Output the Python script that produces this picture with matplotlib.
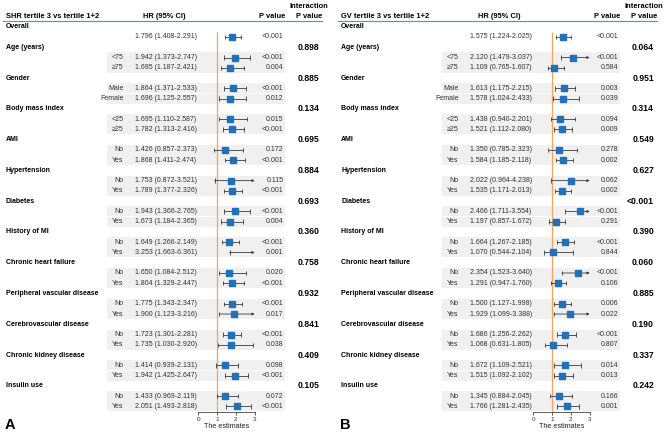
"""
Forest plots of hazard ratios for SHR and GV tertile 3 vs tertile 1+2 by subgroup.
"""

import matplotlib
matplotlib.use("Agg")
import matplotlib.pyplot as plt
from matplotlib.patches import Rectangle

plt.rcParams["font.family"] = ["Liberation Sans", "DejaVu Sans"]

# ---- data -----------------------------------------------------------------
groups = [
    "Age (years)", "Gender", "Body mass index", "AMI", "Hypertension",
    "Diabetes", "History of MI", "Chronic heart failure",
    "Peripheral vascular disease", "Cerebrovascular disease",
    "Chronic kidney disease", "Insulin use",
]
levels = [
    ["<75", "≥75"], ["Male", "Female"], ["<25", "≥25"], ["No", "Yes"],
    ["No", "Yes"], ["No", "Yes"], ["No", "Yes"], ["No", "Yes"],
    ["No", "Yes"], ["No", "Yes"], ["No", "Yes"], ["No", "Yes"],
]

# first entry = overall, then two levels per group in order
shr_hr = [1.796, 1.942, 1.695, 1.864, 1.696, 1.695, 1.782, 1.426, 1.868,
          1.753, 1.789, 1.943, 1.673, 1.649, 3.253, 1.650, 1.804, 1.775,
          1.900, 1.723, 1.735, 1.414, 1.942, 1.433, 2.051]
shr_lo = [1.408, 1.373, 1.187, 1.371, 1.125, 1.110, 1.313, 0.857, 1.411,
          0.872, 1.377, 1.366, 1.184, 1.266, 1.663, 1.084, 1.329, 1.343,
          1.123, 1.301, 1.030, 0.939, 1.425, 0.969, 1.493]
shr_hi = [2.291, 2.747, 2.421, 2.533, 2.557, 2.587, 2.416, 2.373, 2.474,
          3.521, 2.326, 2.765, 2.365, 2.149, 6.361, 2.512, 2.447, 2.347,
          3.216, 2.281, 2.920, 2.131, 2.647, 2.119, 2.818]
shr_p = ["<0.001", "<0.001", "0.004", "<0.001", "0.012", "0.015", "<0.001",
         "0.172", "<0.001", "0.115", "<0.001", "<0.001", "0.004", "<0.001",
         "0.001", "0.020", "<0.001", "<0.001", "0.017", "<0.001", "0.038",
         "0.098", "<0.001", "0.072", "<0.001"]
shr_p_int = ["0.898", "0.885", "0.134", "0.695", "0.884", "0.693", "0.360",
             "0.758", "0.932", "0.841", "0.409", "0.105"]

gv_hr = [1.575, 2.120, 1.109, 1.613, 1.578, 1.438, 1.521, 1.350, 1.584,
         2.022, 1.535, 2.466, 1.197, 1.664, 1.070, 2.354, 1.291, 1.500,
         1.929, 1.686, 1.068, 1.672, 1.515, 1.345, 1.766]
gv_lo = [1.224, 1.479, 0.765, 1.175, 1.024, 0.940, 1.112, 0.785, 1.185,
         0.964, 1.171, 1.711, 0.857, 1.267, 0.544, 1.523, 0.947, 1.127,
         1.099, 1.256, 0.631, 1.109, 1.092, 0.884, 1.281]
gv_hi = [2.025, 3.037, 1.607, 2.215, 2.433, 2.201, 2.080, 2.323, 2.118,
         4.238, 2.013, 3.554, 1.672, 2.185, 2.104, 3.640, 1.760, 1.998,
         3.388, 2.262, 1.805, 2.521, 2.102, 2.045, 2.435]
gv_p = ["<0.001", "<0.001", "0.584", "0.003", "0.039", "0.094", "0.009",
        "0.278", "0.002", "0.062", "0.002", "<0.001", "0.291", "<0.001",
        "0.844", "<0.001", "0.106", "0.006", "0.022", "<0.001", "0.807",
        "0.014", "0.013", "0.166", "0.001"]
gv_p_int = ["0.064", "0.951", "0.314", "0.549", "0.627", "<0.001", "0.390",
            "0.060", "0.885", "0.190", "0.337", "0.242"]

# ---- layout (pixels of a 669x434 canvas) ----------------------------------
W, H = 669, 434
Y_TOP, Y_BOT = -0.5, 37.52
AX_BOTTOM = 1 - 411.7 / H
AX_HEIGHT = (411.7 - 21.6) / H
XMAX = 3

BLUE = "#2271b8"
ORANGE = "#f5a35c"
CI_COLOR = "#3a3a3a"
TXT = "#333333"
FS = 5.0


def draw_ci(ax, hr, lo, hi, y):
    cap = 0.22
    ax.vlines(lo, y - cap, y + cap, color=CI_COLOR, lw=0.6)
    if hi > XMAX:
        ax.annotate("", xy=(XMAX, y), xytext=(lo, y),
                    arrowprops=dict(arrowstyle="-|>", lw=0.6, color=CI_COLOR,
                                    mutation_scale=3.5, shrinkA=0, shrinkB=0))
    else:
        ax.hlines(y, lo, hi, color=CI_COLOR, lw=0.6)
        ax.vlines(hi, y - cap, y + cap, color=CI_COLOR, lw=0.6)
    if hr <= XMAX:
        ax.plot(hr, y, marker="s", ms=3.7, color=BLUE, mec=BLUE, zorder=3)


def draw_panel(fig, left_px, title, hr, lo, hi, p, p_int, letter):
    bg = fig.add_axes([left_px / W, AX_BOTTOM, 334 / W, AX_HEIGHT])
    bg.set_xlim(0, 334)
    bg.set_ylim(Y_BOT, Y_TOP)
    bg.axis("off")

    fp = fig.add_axes([(left_px + 198.3) / W, AX_BOTTOM, 56.4 / W, AX_HEIGHT])
    fp.set_xlim(0, XMAX)
    fp.set_ylim(Y_BOT, Y_TOP)
    fp.patch.set_alpha(0)
    for side in ("left", "right", "top"):
        fp.spines[side].set_visible(False)
    fp.spines["bottom"].set_linewidth(0.6)
    fp.spines["bottom"].set_color("#444444")
    fp.set_yticks([])
    fp.set_xticks([0, 1, 2, 3])
    fp.tick_params(axis="x", labelsize=4.6, length=2.2, width=0.6, pad=1.5,
                   colors="#444444", labelcolor="#333333")
    fp.set_xlabel("The estimates", fontsize=5.2, labelpad=0.5, color="#222222")
    fp.vlines(1, 0.55, Y_BOT, color=ORANGE, lw=0.9, zorder=1)

    # header
    bg.text(6, -1.04, title, fontsize=5.4, fontweight="bold", va="center")
    bg.text(164, -1.04, "HR (95% CI)", fontsize=5.4, fontweight="bold",
            ha="center", va="center")
    bg.text(285, -1.04, "P value", fontsize=5.4, fontweight="bold",
            ha="right", va="center")
    bg.text(309, -2.02, "Interaction", fontsize=5.4, fontweight="bold",
            ha="center", va="center", clip_on=False)
    bg.text(309, -1.04, "P value", fontsize=5.4, fontweight="bold",
            ha="center", va="center")
    bg.plot([3, 322], [-0.585, -0.585], color="#5b8cc6", lw=0.8, clip_on=False)

    # overall
    bg.text(6, 0, "Overall", fontsize=FS, fontweight="bold", va="center")
    rows = [1]
    labels = [""]
    for g, name in enumerate(groups):
        y_g = 2 + 3 * g
        bg.text(6, y_g, name, fontsize=FS, fontweight="bold", va="center")
        bg.text(319, y_g, p_int[g], fontsize=6.2, fontweight="bold",
                ha="right", va="center")
        for j, lev in enumerate(levels[g]):
            rows.append(y_g + 1 + j)
            labels.append(lev)

    for i, y in enumerate(rows):
        if i > 0:
            bg.add_patch(Rectangle((107, y - 0.49), 178, 0.98, color="#f0f0f0",
                                   lw=0, zorder=0))
            bg.text(123.5, y, labels[i], fontsize=FS, ha="right", va="center",
                    color=TXT)
        bg.text(135, y, f"{hr[i]:.3f} ({lo[i]:.3f}-{hi[i]:.3f})", fontsize=FS,
                ha="left", va="center", color=TXT)
        bg.text(283.5, y, p[i], fontsize=FS, ha="right", va="center", color=TXT)
        draw_ci(fp, hr[i], lo[i], hi[i], y)

    bg.text(5, 38.85, letter, fontsize=10.5, fontweight="bold", va="center",
            clip_on=False)


fig = plt.figure(figsize=(W / 100, H / 100), dpi=100)
draw_panel(fig, 0, "SHR tertile 3 vs tertile 1+2", shr_hr, shr_lo, shr_hi,
           shr_p, shr_p_int, "A")
draw_panel(fig, 335, "GV tertile 3 vs tertile 1+2", gv_hr, gv_lo, gv_hi,
           gv_p, gv_p_int, "B")
fig.savefig("out.png", dpi=100, facecolor="white")
